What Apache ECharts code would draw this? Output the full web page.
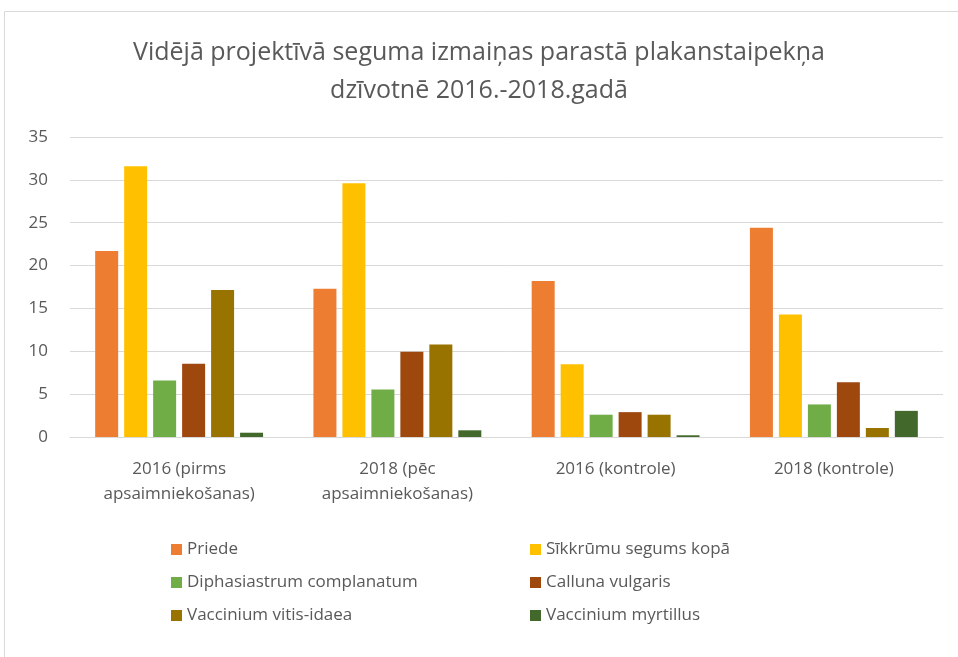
<!DOCTYPE html>
<html>
<head>
<meta charset="utf-8">
<script src="https://cdn.jsdelivr.net/npm/echarts@6/dist/echarts.min.js"></script>
<style>
	html, body { margin: 0; padding: 0; background: #fff; }
	#chart { width: 958px; height: 657px; }
</style>
</head>
<body>
<div id="chart"></div>
<script>
	// kategorijas un vērtības (nolasītas no attēla)
	var categories = ["2016 (pirms\napsaimniekošanas)", "2018 (pēc\napsaimniekošanas)", "2016 (kontrole)", "2018 (kontrole)"];
	var seriesNames = ["Priede", "Sīkkrūmu segums kopā", "Diphasiastrum complanatum", "Calluna vulgaris", "Vaccinium vitis-idaea", "Vaccinium myrtillus"];
	var seriesColors = ["#ed7d31", "#ffc000", "#70ad47", "#9e480e", "#997300", "#43682b"];
	var priede = [21.7, 17.3, 18.2, 24.4];
	var sikkrumi = [31.6, 29.6, 8.5, 14.3];
	var diphasiastrum = [6.6, 5.55, 2.6, 3.8];
	var calluna = [8.55, 9.95, 2.9, 6.4];
	var vitisIdaea = [17.15, 10.8, 2.6, 1.05];
	var myrtillus = [0.5, 0.78, 0.2, 3.05];
	var seriesValues = [priede, sikkrumi, diphasiastrum, calluna, vitisIdaea, myrtillus];

	var font = "'Open Sans', 'Liberation Sans', sans-serif";
	var textColor = "#595959";

	var series = seriesNames.map(function(name, i) {
		return {
			name: name,
			type: "bar",
			data: seriesValues[i],
			barWidth: 23,
			barGap: "26%",
			itemStyle: { color: seriesColors[i] }
		};
	});

	var legendStyle = {
		orient: "vertical",
		top: 536,
		itemWidth: 11,
		itemHeight: 11,
		itemGap: 16,
		icon: "rect",
		textStyle: { fontFamily: font, fontSize: 17, color: textColor }
	};

	var myChart = echarts.init(document.getElementById("chart"));
	myChart.setOption({
		animation: false,
		title: {
			text: "Vidējā projektīvā seguma izmaiņas parastā plakanstaipekņa\ndzīvotnē 2016.-2018.gadā",
			left: "center",
			top: 29,
			textStyle: { fontFamily: font, fontSize: 25, fontWeight: "normal", color: textColor, lineHeight: 38 }
		},
		graphic: [{
			type: "rect",
			shape: { x: 4.5, y: 11.5, width: 980, height: 700 },
			style: { fill: "none", stroke: "#d9d9d9", lineWidth: 1 }
		}],
		legend: [
			Object.assign({ left: 166, data: [seriesNames[0], seriesNames[2], seriesNames[4]] }, legendStyle),
			Object.assign({ left: 525, data: [seriesNames[1], seriesNames[3], seriesNames[5]] }, legendStyle)
		],
		grid: { left: 70, right: 15, top: 137, bottom: 220 },
		xAxis: {
			type: "category",
			data: categories,
			axisLine: { lineStyle: { color: "#d9d9d9" } },
			axisTick: { show: false },
			axisLabel: { fontFamily: font, fontSize: 17, color: textColor, margin: 20, lineHeight: 25, interval: 0 }
		},
		yAxis: {
			type: "value",
			min: 0,
			max: 35,
			interval: 5,
			axisLabel: { fontFamily: font, fontSize: 17, color: textColor, margin: 22 },
			splitLine: { lineStyle: { color: "#d9d9d9", width: 1 } }
		},
		series: series
	});
</script>
</body>
</html>
